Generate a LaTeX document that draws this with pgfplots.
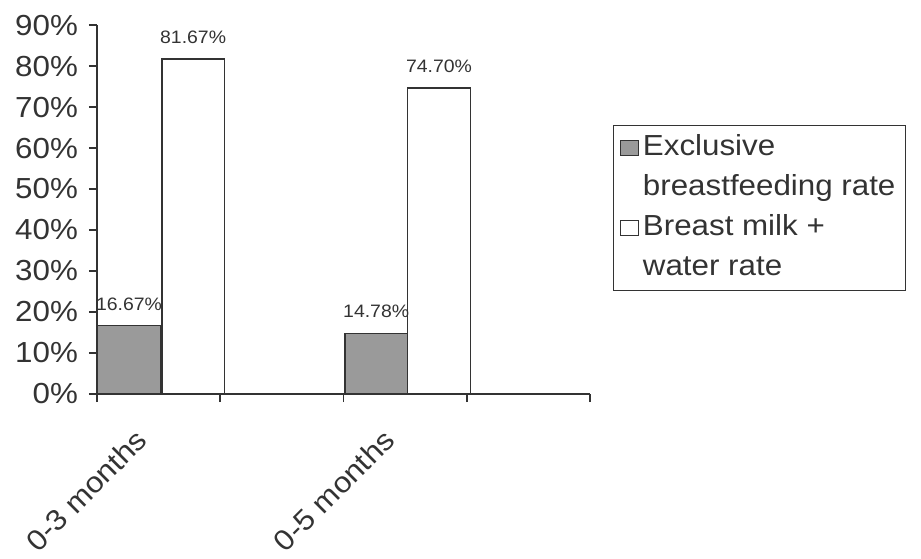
\documentclass[border=0pt]{standalone}
\usepackage{pgfplots}
\pgfplotsset{compat=1.18}
\usepackage{fontspec}
\setmainfont{Liberation Sans}[FakeStretch=1.08]
\definecolor{ink}{HTML}{333333}
\definecolor{barGrey}{HTML}{9A9A9A}
\begin{document}
\begin{tikzpicture}
\begin{axis}[
  at={(0,0)}, anchor=south west,
  scale only axis,
  width=246.5pt, height=184.5pt,
  xmin=0, xmax=4, ymin=0, ymax=90,
  axis lines=left,
  axis line style={-, ink, line width=0.8pt},
  tick style={ink, line width=0.8pt},
  tick align=outside,
  major tick length=4pt,
  xtick={0,1,2,3,4},
  xticklabels={},
  extra x ticks={0.30,2.31},
  extra x tick labels={0-3 months,0-5 months},
  extra x tick style={major tick length=0pt,
    tick label style={yshift=-16.5pt, rotate=45, anchor=north east, inner sep=0pt}},
  ytick={0,10,20,30,40,50,60,70,80,90},
  yticklabels={0\%,10\%,20\%,30\%,40\%,50\%,60\%,70\%,80\%,90\%},
  yticklabel style={xshift=-2pt},
  tick label style={font=\fontsize{14.5}{17}\selectfont, text=ink},
  legend style={at={(1.047,0.729)}, anchor=north west, draw=ink, line width=0.6pt,
    font=\fontsize{14.5}{17}\selectfont, text=ink, row sep=1.5pt,
    nodes={text height=11pt, text depth=3.5pt, inner sep=2pt}},
  legend cell align=left,
  legend image code/.code={\draw[#1, line width=0.6pt] (0pt,-3.8pt) rectangle (9pt,3.8pt);},
  nodes near coords={\pgfmathprintnumber[fixed,fixed zerofill,precision=2,assume math mode=true]{\pgfplotspointmeta}\%},
  every node near coord/.append style={font=\fontsize{9}{10}\selectfont, text=ink, yshift=4pt},
]
\addplot[ybar, bar shift=0pt, bar width=0.51, fill=barGrey, draw=ink, line width=0.8pt]
  coordinates {(0.26,16.67) (2.265,14.78)};
\addlegendentry{Exclusive}
\addlegendimage{empty legend}
\addlegendentry{breastfeeding rate}
\addplot[ybar, bar shift=0pt, bar width=0.51, fill=white, draw=ink, line width=0.8pt]
  coordinates {(0.78,81.67) (2.775,74.70)};
\addlegendentry{Breast milk +}
\addlegendimage{empty legend}
\addlegendentry{water rate}
\end{axis}
\pgfresetboundingbox
\useasboundingbox (-48.5pt,-82pt) rectangle (412pt,197pt);
\end{tikzpicture}
\end{document}
